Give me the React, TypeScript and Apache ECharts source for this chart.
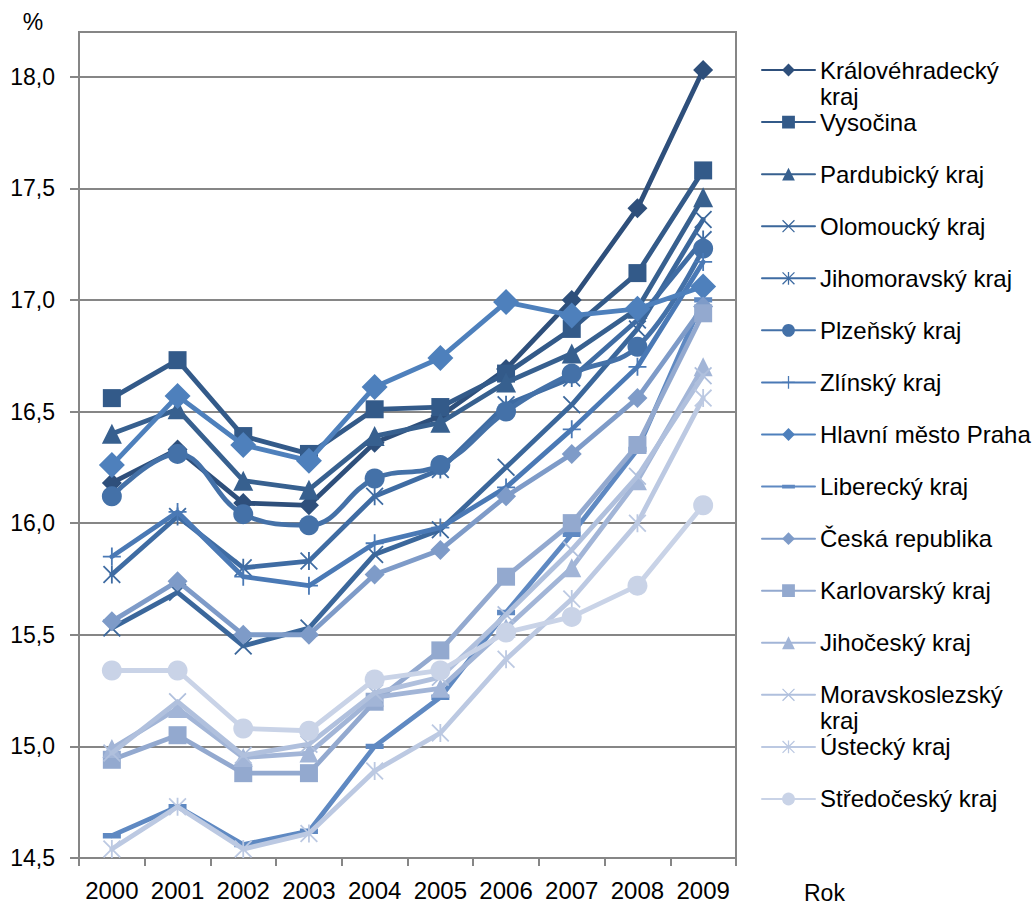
import React, { useEffect, useRef } from "react";
import * as echarts from "echarts";

const years = ["2000", "2001", "2002", "2003", "2004", "2005", "2006", "2007", "2008", "2009"];
const yTickValues = [14.5, 15, 15.5, 16, 16.5, 17, 17.5, 18];

const seriesNames = [
  "Královéhradecký kraj",
  "Vysočina",
  "Pardubický kraj",
  "Olomoucký kraj",
  "Jihomoravský kraj",
  "Plzeňský kraj",
  "Zlínský kraj",
  "Hlavní město Praha",
  "Liberecký kraj",
  "Česká republika",
  "Karlovarský kraj",
  "Jihočeský kraj",
  "Moravskoslezský kraj",
  "Ústecký kraj",
  "Středočeský kraj",
];

const kralovehradecky = [16.18, 16.33, 16.09, 16.08, 16.36, 16.48, 16.69, 17.0, 17.41, 18.03];
const vysocina = [16.56, 16.73, 16.39, 16.31, 16.51, 16.52, 16.67, 16.87, 17.12, 17.58];
const pardubicky = [16.4, 16.51, 16.19, 16.15, 16.39, 16.45, 16.63, 16.76, 16.96, 17.46];
const olomoucky = [15.53, 15.69, 15.45, 15.53, 15.86, 15.97, 16.25, 16.53, 16.87, 17.36];
const jihomoravsky = [15.77, 16.03, 15.8, 15.83, 16.12, 16.24, 16.53, 16.65, 16.91, 17.27];
const plzensky = [16.12, 16.31, 16.04, 15.99, 16.2, 16.26, 16.5, 16.67, 16.79, 17.23];
const zlinsky = [15.85, 16.05, 15.76, 15.72, 15.91, 15.98, 16.16, 16.42, 16.7, 17.17];
const praha = [16.26, 16.57, 16.35, 16.28, 16.61, 16.74, 16.99, 16.93, 16.96, 17.06];
const liberecky = [14.6, 14.73, 14.56, 14.62, 15.0, 15.22, 15.6, 15.95, 16.33, 17.0];
const ceskaRepublika = [15.56, 15.74, 15.5, 15.5, 15.77, 15.88, 16.12, 16.31, 16.56, 16.97];
const karlovarsky = [14.94, 15.05, 14.88, 14.88, 15.2, 15.43, 15.76, 16.0, 16.35, 16.94];
const jihocesky = [14.99, 15.17, 14.95, 14.97, 15.22, 15.26, 15.53, 15.8, 16.19, 16.7];
const moravskoslezsky = [14.97, 15.2, 14.96, 15.01, 15.24, 15.31, 15.59, 15.88, 16.21, 16.66];
const ustecky = [14.54, 14.73, 14.54, 14.61, 14.89, 15.06, 15.39, 15.66, 16.0, 16.56];
const stredocesky = [15.34, 15.34, 15.08, 15.07, 15.3, 15.34, 15.51, 15.58, 15.72, 16.08];

const seriesValues = [
  kralovehradecky, vysocina, pardubicky, olomoucky, jihomoravsky, plzensky, zlinsky, praha,
  liberecky, ceskaRepublika, karlovarsky, jihocesky, moravskoslezsky, ustecky, stredocesky,
];

const colors = [
  "#2E4F7B", "#335A89", "#37608F", "#3B679B", "#3F6CA3", "#4471A8", "#4A79B5", "#4E80BC",
  "#5F89C2", "#7E9BC8", "#93A9CF", "#A2B5D7", "#B0C0DD", "#BCC9E2", "#C9D3E7",
];

const X_PATH =
  "M-10,-8.6L-8.6,-10L0,-1.4L8.6,-10L10,-8.6L1.4,0L10,8.6L8.6,10L0,1.4L-8.6,10L-10,8.6L-1.4,0Z";
const SYM_X = "path://" + X_PATH;
const SYM_STAR = "path://" + X_PATH + "M-1,-10L1,-10L1,10L-1,10Z";
const SYM_PLUS = "path://M-1,-10L1,-10L1,-1L10,-1L10,1L1,1L1,10L-1,10L-1,1L-10,1L-10,-1L-1,-1Z";
const SYM_DASH = "path://M-10,-10L-10,-10ZM10,10L10,10ZM-10,-3L10,-3L10,3L-10,3Z";

const symbols = [
  "diamond", "rect", "triangle", SYM_X, SYM_STAR, "circle", SYM_PLUS, "diamond",
  SYM_DASH, "diamond", "rect", "triangle", SYM_X, SYM_STAR, "circle",
];
const symbolSizes = [20, 18, 20, 18, 18, 20, 18, 26, 18, 20, 18, 19, 18, 18, 20];

const FONT = "'Liberation Sans', Arial, sans-serif";

function legendLabel(name: string): string {
  if (name === "Královéhradecký kraj") return "\nKrálovéhradecký\nkraj";
  if (name === "Moravskoslezský kraj") return "\nMoravskoslezský\nkraj";
  return name;
}

export default function App() {
  const ref = useRef<HTMLDivElement>(null);

  useEffect(() => {
    if (!ref.current) return;
    const chart = echarts.init(ref.current, null, { renderer: "svg" });

    const LINE_H = 26;
    const legends = seriesNames.map((name, i) => {
      const center = 70 + 52.07 * i;
      const twoLine = legendLabel(name).indexOf("\n") >= 0;
      return {
        data: [name],
        orient: "vertical",
        left: 761,
        top: twoLine ? center - LINE_H * 1.5 : center - LINE_H / 2,
        padding: 0,
        itemGap: 0,
        itemWidth: 53,
        itemHeight: 16,
        selectedMode: false,
        formatter: legendLabel,
        textStyle: {
          fontFamily: FONT,
          fontSize: 24,
          color: "#000",
          lineHeight: LINE_H,
        },
      };
    });

    const option = {
      animation: false,
      backgroundColor: "#fff",
      grid: {
        left: 79,
        right: 297,
        top: 32,
        bottom: 50,
        show: true,
        borderColor: "#868686",
        borderWidth: 2,
        backgroundColor: "transparent",
      },
      legend: legends,
      xAxis: {
        type: "category",
        data: years,
        boundaryGap: true,
        axisLine: { show: true, lineStyle: { color: "#868686", width: 2 } },
        axisTick: { show: true, length: 8, alignWithLabel: false, lineStyle: { color: "#868686", width: 2 } },
        axisLabel: { interval: 0, margin: 20, fontFamily: FONT, fontSize: 24, color: "#000" },
        splitLine: { show: false },
      },
      yAxis: {
        type: "value",
        min: 14.5,
        max: 18.2,
        interval: 0.5,
        axisLine: { show: true, lineStyle: { color: "#868686", width: 2 } },
        axisTick: {
          show: true,
          length: 9,
          customValues: yTickValues,
          lineStyle: { color: "#868686", width: 2 },
        },
        axisLabel: {
          margin: 24,
          customValues: yTickValues,
          fontFamily: FONT,
          fontSize: 23,
          color: "#000",
          formatter: (v: number) => (v > 18.01 ? "" : v.toFixed(1).replace(".", ",")),
        },
        splitLine: { show: true, lineStyle: { color: "#868686", width: 2 } },
      },
      graphic: [
        {
          type: "text",
          x: 33,
          y: 22,
          style: { text: "%", fontFamily: FONT, fontSize: 23, fill: "#000", align: "center", verticalAlign: "middle" },
        },
        {
          type: "text",
          x: 804,
          y: 893,
          style: { text: "Rok", fontFamily: FONT, fontSize: 23, fill: "#000", align: "left", verticalAlign: "middle" },
        },
      ],
      series: seriesNames.map((name, i) => ({
        name,
        type: "line",
        data: seriesValues[i],
        symbol: symbols[i],
        symbolSize: symbolSizes[i],
        showAllSymbol: true,
        smooth: name === "Plzeňský kraj" ? 0.4 : false,
        lineStyle: { color: colors[i], width: 4.8, cap: "round", join: "round" },
        itemStyle: { color: colors[i], borderWidth: 0 },
        emphasis: { disabled: true },
        z: 2 + i * 0.01,
      })),
    };

    chart.setOption(option as any);
    return () => chart.dispose();
  }, []);

  return (
    <div
      ref={ref}
      style={{ position: "absolute", left: 0, top: 0, width: 1033, height: 908, background: "#fff" }}
    />
  );
}
